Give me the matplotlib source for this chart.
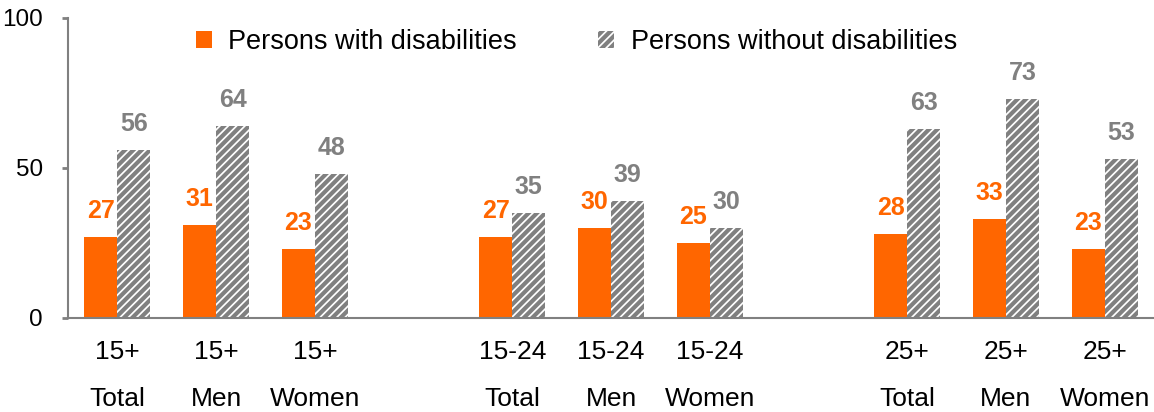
import numpy as np
import matplotlib.pyplot as plt

plt.rcParams['font.family'] = ['Liberation Sans', 'DejaVu Sans']
plt.rcParams['hatch.linewidth'] = 3.0

# data
ages = ['15+', '15+', '15+', '15-24', '15-24', '15-24', '25+', '25+', '25+']
sexes = ['Total', 'Men', 'Women'] * 3
with_dis = [27, 31, 23, 27, 30, 25, 28, 33, 23]
without_dis = [56, 64, 48, 35, 39, 30, 63, 73, 53]

orange = '#FF6600'
grey = '#808080'

# three groups of three, one empty slot between groups
slots = np.array([0, 1, 2, 4, 5, 6, 8, 9, 10])
w = 0.335

fig = plt.figure(figsize=(11.54, 4.12), dpi=100)
ax = fig.add_axes([68 / 1154, 1 - 318 / 412, 1 - 68 / 1154, 300 / 412])

ax.bar(slots - w / 2, with_dis, w, color=orange, linewidth=0,
       label='Persons with disabilities')
ax.bar(slots + w / 2, without_dis, w, facecolor='white', edgecolor=grey,
       hatch='////', linewidth=0, label='Persons without disabilities')

for x, v in zip(slots, with_dis):
    ax.annotate(str(v), (x - w / 2, v), xytext=(0, 10), textcoords='offset points',
                ha='center', va='bottom', color=orange, fontsize=18, fontweight='bold')
for x, v in zip(slots, without_dis):
    ax.annotate(str(v), (x + w / 2, v), xytext=(0, 10), textcoords='offset points',
                ha='center', va='bottom', color=grey, fontsize=18, fontweight='bold')

ax.set_xlim(-0.5, 10.5)
ax.set_ylim(0, 100)
ax.set_yticks([0, 50, 100])
ax.set_xticks(slots)
ax.set_xticklabels([a + '\n' + s for a, s in zip(ages, sexes)], linespacing=2.2)
ax.tick_params(axis='x', length=0, pad=16, labelsize=19)
ax.tick_params(axis='y', length=4, width=2, color=grey, pad=14, labelsize=17.5)

for s in ['top', 'right']:
    ax.spines[s].set_visible(False)
for s in ['left', 'bottom']:
    ax.spines[s].set_color(grey)
    ax.spines[s].set_linewidth(1.5)

ax.legend(loc='upper center', bbox_to_anchor=(0.468, 1.045), ncol=2, frameon=False,
          fontsize=19.5, handlelength=0.6, handleheight=0.6, handletextpad=0.6,
          columnspacing=3.0)

fig.savefig('out.png', dpi=100)
